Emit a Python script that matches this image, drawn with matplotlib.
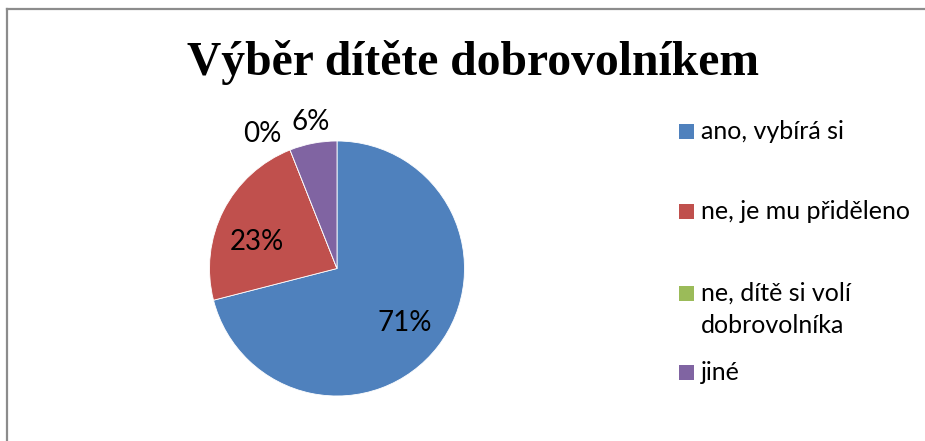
import numpy as np
import matplotlib
matplotlib.use("Agg")
from matplotlib import pyplot as plt
from matplotlib.patches import Rectangle
from matplotlib.lines import Line2D

# data
labels = ["ano, vybírá si", "ne, je mu přiděleno", "ne, dítě si volí\ndobrovolníka", "jiné"]
shares = [71, 23, 0, 6]
colors = ["#4f81bd", "#c0504d", "#9bbb59", "#8064a2"]
title = "Výběr dítěte dobrovolníkem"

W, H = 925, 441
fig = plt.figure(figsize=(W / 100, H / 100), dpi=100)

# gray frame of the chart area (runs off the right and bottom edge)
fig.add_artist(Line2D([7 / W, 7 / W], [0, 1 - 9 / H], color="#8c8c8c", lw=1.6,
                      transform=fig.transFigure))
fig.add_artist(Line2D([7 / W, 1], [1 - 9 / H, 1 - 9 / H], color="#8c8c8c", lw=1.6,
                      transform=fig.transFigure))

fig.text(473 / W, 1 - 75 / H, title, ha="center", va="baseline",
         fontsize=34.3, fontweight="bold", family="Liberation Serif")

# pie: center (337, 268.5) px, radius 127.5 px
R = 127.5
span = 1.5
side = 2 * span * R
cx, cy = 337, H - 268.5
ax = fig.add_axes([(cx - side / 2) / W, (cy - side / 2) / H, side / W, side / H])
wedges, _ = ax.pie(shares, colors=colors, startangle=90, counterclock=False,
                   radius=1, wedgeprops=dict(linewidth=0.6, edgecolor="white"))
ax.set_xlim(-span, span)
ax.set_ylim(-span, span)
ax.axis("off")

lab_font = dict(family="Lato", fontsize=20, color="black")
# label radius and angle nudges (0% pushed away from 6%)
lab_r = [0.67, 0.67, 1.22, 1.19]
lab_shift = [0, 7, 7, -1]
for w, v, r, sh in zip(wedges, shares, lab_r, lab_shift):
    ang = np.deg2rad((w.theta1 + w.theta2) / 2 + sh)
    ax.text(r * np.cos(ang), r * np.sin(ang) - 0.02, f"{v}%", ha="center", va="center", **lab_font)

# legend, drawn by hand to keep Excel's uneven spacing (baselines in px)
leg_base = [139, 219, 301, 380]
for lab, c, y in zip(labels, colors, leg_base):
    fig.add_artist(Rectangle((679 / W, 1 - y / H), 15 / W, 15 / H,
                             facecolor=c, edgecolor="none", transform=fig.transFigure))
    fig.text(701 / W, 1 - y / H, lab.split("\n")[0], ha="left", va="baseline",
             family="Lato", fontsize=18)
    if "\n" in lab:
        fig.text(701 / W, 1 - (y + 32) / H, lab.split("\n")[1], ha="left", va="baseline",
                 family="Lato", fontsize=18)

fig.savefig("out.png", dpi=100)
